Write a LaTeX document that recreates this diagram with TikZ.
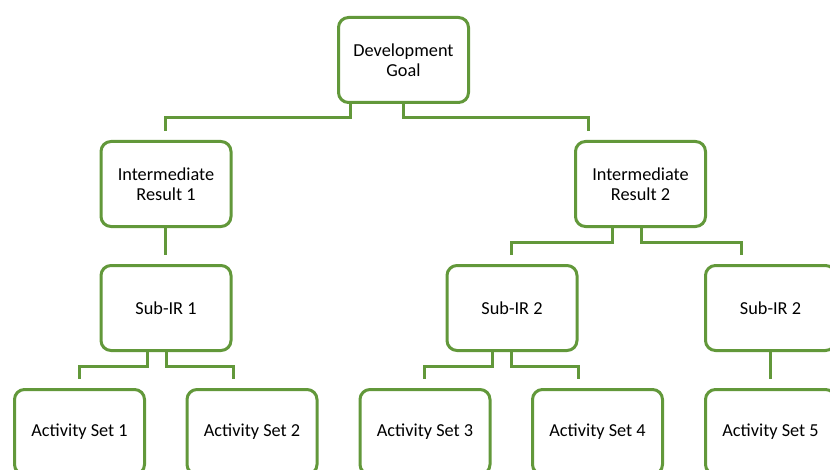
\documentclass[tikz,border=0pt]{standalone}
\usepackage{fontspec}
\setmainfont{Carlito}
\definecolor{orggreen}{RGB}{98,152,58}
\begin{document}
\begin{tikzpicture}[x=0.75pt,y=-0.75pt,
  box/.style={draw=orggreen,line width=2.25pt,rounded corners=7.5pt,fill=white,
    minimum width=97.5pt,minimum height=63.75pt,align=center,inner sep=0pt,
    font=\fontsize{13.7}{15}\selectfont},
  conn/.style={draw=orggreen,line width=2.25pt}]
\useasboundingbox (0,0) rectangle (830,470);
\clip (0,0) rectangle (830,470);
% nodes
\node[box] (dev) at (403.5,60) {Development\\Goal};
\node[box] (ir1) at (166,184) {Intermediate\\Result 1};
\node[box] (ir2) at (640.5,184) {Intermediate\\Result 2};
\node[box] (sub1) at (166,308) {Sub-IR 1};
\node[box] (sub2) at (512,308) {Sub-IR 2};
\node[box] (sub3) at (770.5,308) {Sub-IR 2};
\node[box] (as1) at (79.5,432) {Activity Set 1};
\node[box] (as2) at (252,432) {Activity Set 2};
\node[box] (as3) at (425,432) {Activity Set 3};
\node[box] (as4) at (597.5,432) {Activity Set 4};
\node[box] (as5) at (770.5,432) {Activity Set 5};
% turn points and free ends
\coordinate (t1) at (350,118);  \coordinate (e1) at (165,131);
\coordinate (t2) at (403,118);  \coordinate (e2) at (588,131);
\coordinate (e3) at (165,255);
\coordinate (t4) at (612,242);  \coordinate (e4) at (511,255);
\coordinate (t5) at (641,242);  \coordinate (e5) at (741,255);
\coordinate (t6) at (147,366);  \coordinate (e6) at (79,379);
\coordinate (t7) at (166,366);  \coordinate (e7) at (233,379);
\coordinate (t8) at (492,366);  \coordinate (e8) at (424,379);
\coordinate (t9) at (511,366);  \coordinate (e9) at (578,379);
\coordinate (e10) at (770,379);
% connectors
\draw[conn] (dev.south -| t1) -- (t1) -| (e1);
\draw[conn] (dev.south -| t2) -- (t2) -| (e2);
\draw[conn] (ir1.south -| e3) -- (e3);
\draw[conn] (ir2.south -| t4) -- (t4) -| (e4);
\draw[conn] (ir2.south -| t5) -- (t5) -| (e5);
\draw[conn] (sub1.south -| t6) -- (t6) -| (e6);
\draw[conn] (sub1.south -| t7) -- (t7) -| (e7);
\draw[conn] (sub2.south -| t8) -- (t8) -| (e8);
\draw[conn] (sub2.south -| t9) -- (t9) -| (e9);
\draw[conn] (sub3.south -| e10) -- (e10);
\end{tikzpicture}
\end{document}
